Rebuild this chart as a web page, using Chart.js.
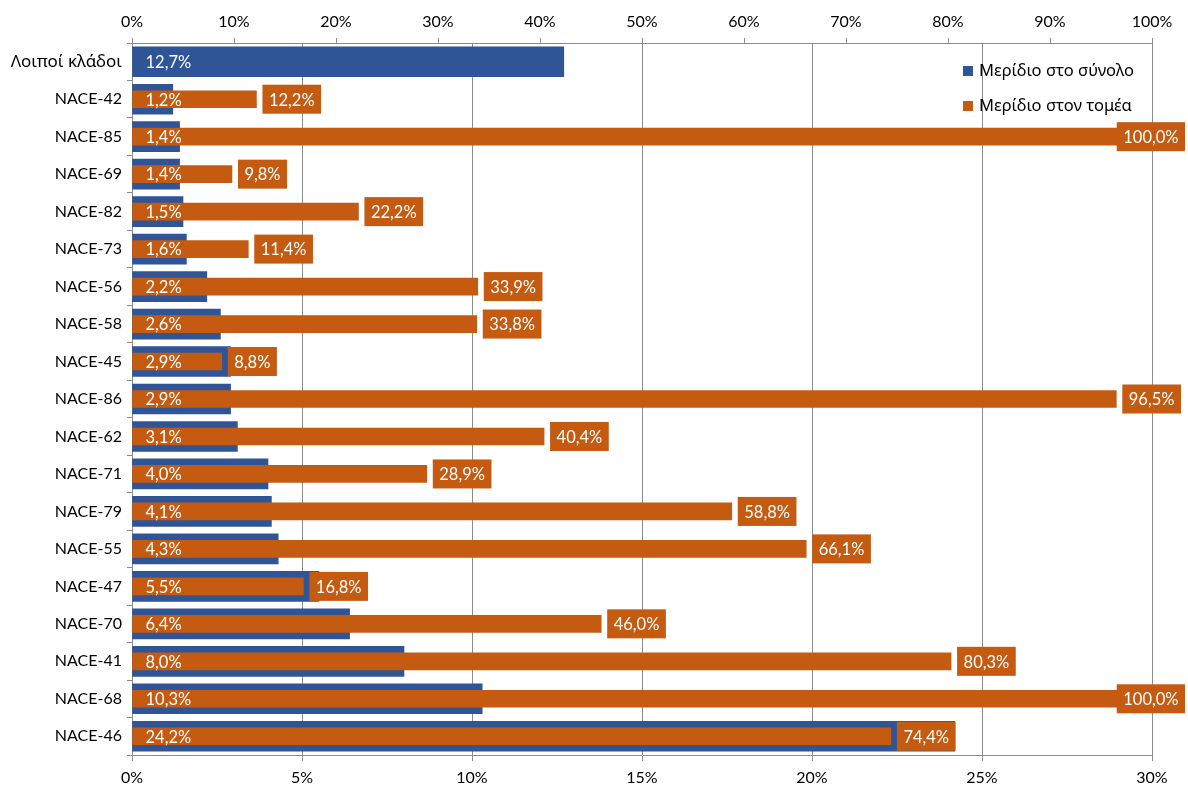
<!DOCTYPE html>
<html lang="el">
<head>
<meta charset="UTF-8" />
<title>Μερίδιο ανά κλάδο NACE</title>
<script src="https://cdn.jsdelivr.net/npm/chart.js"></script>
<style>
  html, body { margin: 0; padding: 0; background: #fff; }
</style>
</head>
<body>
<canvas id="shareChart" width="1188" height="796"></canvas>

<script>
// δεδομένα
const categories = ['Λοιποί κλάδοι', 'NACE-42', 'NACE-85', 'NACE-69', 'NACE-82', 'NACE-73', 'NACE-56',
  'NACE-58', 'NACE-45', 'NACE-86', 'NACE-62', 'NACE-71', 'NACE-79', 'NACE-55', 'NACE-47', 'NACE-70',
  'NACE-41', 'NACE-68', 'NACE-46'];
const shareTotal = [12.7, 1.2, 1.4, 1.4, 1.5, 1.6, 2.2, 2.6, 2.9, 2.9, 3.1, 4.0, 4.1, 4.3, 5.5, 6.4, 8.0, 10.3, 24.2];
const shareSector = [null, 12.2, 100.0, 9.8, 22.2, 11.4, 33.9, 33.8, 8.8, 96.5, 40.4, 28.9, 58.8, 66.1, 16.8, 46.0, 80.3, 100.0, 74.4];
const seriesNames = ['Μερίδιο στο σύνολο', 'Μερίδιο στον τομέα'];

const BLUE = '#2F5597';
const ORANGE = '#C55A11';
const GRID = '#8C8C8C';
const FONT = 'Lato, "Open Sans", "Noto Sans", sans-serif';
const GREEK_FONT = '"Noto Sans", "Open Sans", sans-serif';

function fmt(v) {
  return v.toFixed(1).replace('.', ',') + '%';
}

// ετικέτες τιμών πάνω στις μπάρες
const barLabels = {
  id: 'barLabels',
  afterDatasetsDraw(chart) {
    const ctx = chart.ctx;
    ctx.save();
    ctx.font = '16.5px ' + FONT;
    ctx.textBaseline = 'middle';
    ctx.textAlign = 'left';

    chart.getDatasetMeta(0).data.forEach((bar, i) => {
      ctx.fillStyle = '#fff';
      ctx.fillText(fmt(shareTotal[i]), bar.base + 13, bar.y + 1);
    });

    chart.getDatasetMeta(1).data.forEach((bar, i) => {
      const v = shareSector[i];
      if (v == null) return;
      const txt = fmt(v);
      const w = ctx.measureText(txt).width + 13;
      let x = bar.x + 6;
      if (x + w > chart.width - 3) x = chart.width - 3 - w;
      ctx.fillStyle = ORANGE;
      ctx.fillRect(x, bar.y - 14.5, w, 29);
      ctx.fillStyle = '#fff';
      ctx.fillText(txt, x + 6.5, bar.y + 1);
    });
    ctx.restore();
  }
};

// υπόμνημα μέσα στην περιοχή του γραφήματος
const innerLegend = {
  id: 'innerLegend',
  afterDraw(chart) {
    const ctx = chart.ctx;
    const colors = [BLUE, ORANGE];
    ctx.save();
    ctx.font = '16.5px ' + GREEK_FONT;
    ctx.textBaseline = 'middle';
    ctx.textAlign = 'left';
    seriesNames.forEach((name, i) => {
      const y = 71 + i * 35;
      ctx.fillStyle = colors[i];
      ctx.fillRect(963, y - 5, 10, 10);
      ctx.fillStyle = '#000';
      ctx.fillText(name, 979, y);
    });
    ctx.restore();
  }
};

const tickFont = { family: FONT, size: 16 };

new Chart(document.getElementById('shareChart'), {
  type: 'bar',
  data: {
    labels: categories,
    datasets: [{
      label: seriesNames[0],
      data: shareTotal,
      xAxisID: 'x',
      backgroundColor: BLUE,
      barThickness: 30,
      grouped: false,
      order: 2
    }, {
      label: seriesNames[1],
      data: shareSector,
      xAxisID: 'x2',
      backgroundColor: ORANGE,
      barThickness: 17,
      grouped: false,
      order: 1
    }]
  },
  options: {
    indexAxis: 'y',
    responsive: false,
    animation: false,
    devicePixelRatio: 1,
    layout: { padding: { left: 0, right: 36, top: 0, bottom: 0 } },
    plugins: {
      legend: { display: false },
      tooltip: { enabled: false }
    },
    scales: {
      x: {
        position: 'bottom',
        min: 0,
        max: 30,
        ticks: { stepSize: 5, callback: v => v + '%', color: '#000', font: tickFont, padding: 7 },
        grid: { color: GRID, tickLength: 6 },
        border: { color: GRID },
        afterFit: s => { s.height = 41; }
      },
      x2: {
        position: 'top',
        min: 0,
        max: 100,
        ticks: { stepSize: 10, callback: v => v + '%', color: '#000', font: tickFont, padding: 7 },
        grid: { drawOnChartArea: false, color: GRID, tickLength: 5 },
        border: { color: GRID },
        afterFit: s => { s.height = 43; }
      },
      y: {
        ticks: {
          color: '#000',
          padding: 5,
          autoSkip: false,
          font: c => (c.index === 0 ? { family: GREEK_FONT, size: 17 } : tickFont)
        },
        grid: { offset: true, drawOnChartArea: false, color: GRID, tickLength: 5 },
        border: { color: GRID },
        afterFit: s => { s.width = 132; }
      }
    }
  },
  plugins: [barLabels, innerLegend]
});
</script>
</body>
</html>
